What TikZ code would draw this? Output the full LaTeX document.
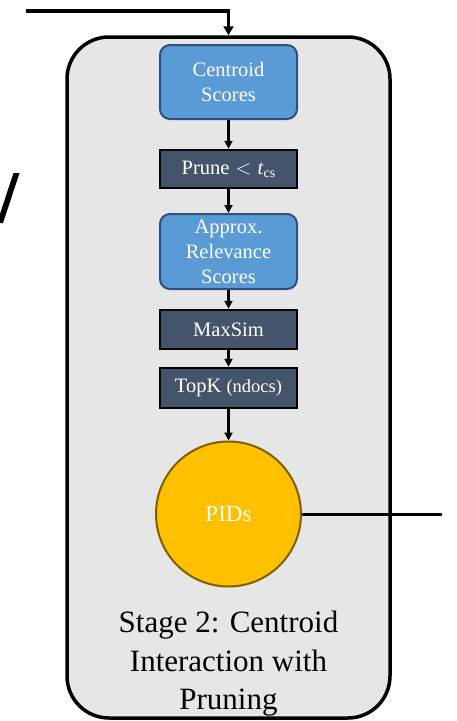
\documentclass[tikz,border=0pt]{standalone}
\usepackage{fontspec}
\setmainfont{Liberation Serif}
\usetikzlibrary{arrows.meta}
\definecolor{panelgray}{HTML}{E6E6E6}
\definecolor{scoreblue}{HTML}{5B9BD5}
\definecolor{scoreedge}{HTML}{2E4F7E}
\definecolor{opslate}{HTML}{44546A}
\definecolor{pidgold}{HTML}{FFC000}
\definecolor{pidedge}{HTML}{7F6000}
\tikzset{
  panel/.style={draw=black, line width=3.5pt, fill=panelgray, rounded corners=42pt,
    minimum width=323pt, minimum height=681pt, inner sep=0pt},
  scorebox/.style={draw=scoreedge, line width=2pt, fill=scoreblue, rounded corners=10pt,
    minimum width=137pt, text=white, align=center, inner sep=0pt,
    font=\fontsize{20.5}{25}\selectfont},
  opbox/.style={draw=black, line width=2.5pt, fill=opslate, minimum width=137pt,
    text=white, align=center, inner sep=0pt, font=\fontsize{20.5}{24}\selectfont},
  pidnode/.style={circle, draw=pidedge, line width=2pt, fill=pidgold, minimum size=145pt,
    inner sep=0pt, text=white, font=\fontsize{23}{26}\selectfont},
  flow/.style={draw=black, line width=2.5pt, -{Triangle[length=8pt,width=8pt]}},
  feed/.style={draw=black, line width=3.5pt, -{Triangle[length=9pt,width=10pt]}},
  caption/.style={align=center, font=\fontsize{31}{38.5}\selectfont, inner sep=0pt}
}
\begin{document}
\begin{tikzpicture}[x=1pt,y=-1pt]
\useasboundingbox (0,0) rectangle (457,721);
\fill[white] (0,0) rectangle (457,721);

% stray glyph stroke at the left edge
\begin{scope}
\clip (0,0) rectangle (457,721);
\fill[black] (13.5,173) -- (19.5,173) -- (3,223) -- (-3,223) -- cycle;
\end{scope}

% stage panel
\node[panel] (stage) at (228.5,377.5) {};

% pipeline
\node[scorebox, minimum height=74pt] (cent) at (228.5,82) {Centroid\\Scores};
\node[opbox, minimum height=38pt] (prune) at (228.5,169) {Prune\hspace{0.3em}$<$\hspace{0.3em}\textit{t}\raisebox{-0.35ex}{\fontsize{14}{14}\selectfont cs}};
\node[scorebox, minimum height=75pt] (approx) at (228.5,251.5) {Approx.\\Relevance\\Scores};
\node[opbox, minimum height=39pt] (maxsim) at (228.5,329.5) {MaxSim};
\node[opbox, minimum height=40pt] (topk) at (228.5,388) {TopK {\fontsize{18.5}{20}\selectfont(ndocs)}};
\node[pidnode] (pids) at (228.5,514) {PIDs};

\draw[flow] (cent.south) -- (prune.north);
\draw[flow] (prune.south) -- (approx.north);
\draw[flow] (approx.south) -- (maxsim.north);
\draw[flow] (maxsim.south) -- (topk.north);
\draw[flow] (topk.south) -- (pids.north);

% incoming and outgoing links
\coordinate (inlet) at (26,11);
\coordinate (outlet) at (442,514);
\draw[feed] (inlet) -| (stage.north);
\draw[black, line width=3pt] (pids.east) -- (outlet);

% panel caption
\node[caption] (cap) at (228.5,664) {Stage 2: Centroid\\Interaction with\\Pruning};
\end{tikzpicture}
\end{document}
